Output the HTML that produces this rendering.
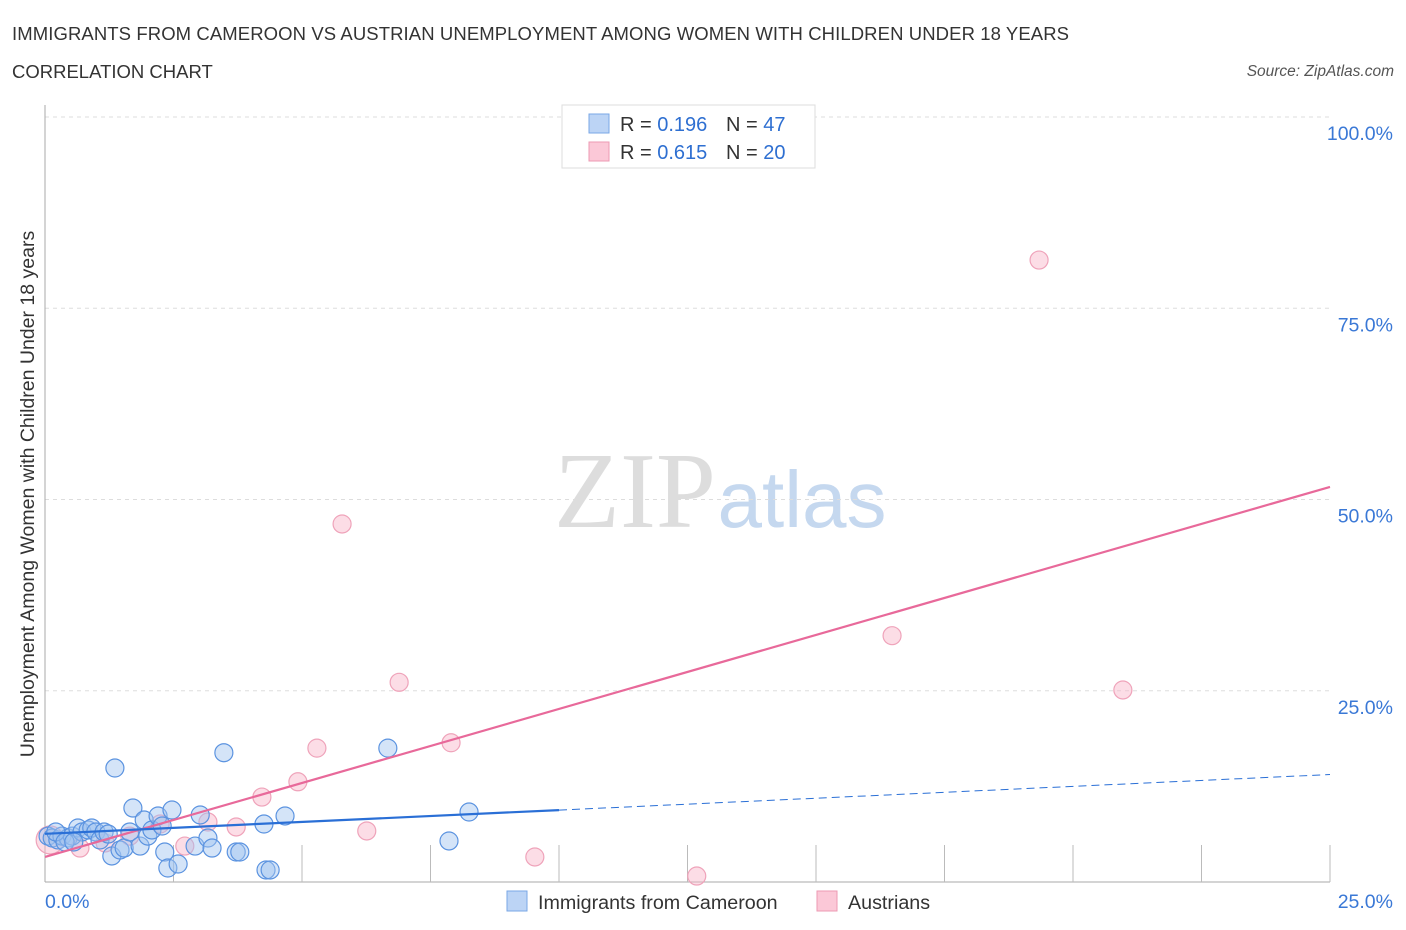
<!DOCTYPE html>
<html><head><meta charset="utf-8"><style>
body{margin:0;background:#fff;font-family:"Liberation Sans",sans-serif;}
svg{display:block}
</style></head><body>
<svg id="chart" width="1406" height="930" xmlns="http://www.w3.org/2000/svg">
<text x="12" y="40" font-size="18.5" fill="#333" textLength="1057">IMMIGRANTS FROM CAMEROON VS AUSTRIAN UNEMPLOYMENT AMONG WOMEN WITH CHILDREN UNDER 18 YEARS</text>
<text x="12" y="78" font-size="18.5" fill="#333">CORRELATION CHART</text>
<text x="1394" y="76" font-size="15.5" fill="#555" font-style="italic" text-anchor="end">Source: ZipAtlas.com</text>
<g>
<text x="635" y="527" font-size="108" font-family="Liberation Serif,serif" fill="#ddd" text-anchor="middle">ZIP</text>
<text x="802" y="527" font-size="80" fill="#c5d8ef" text-anchor="middle">atlas</text>
</g>
<g id="grid"></g>
<g id="axes"></g>
<text transform="translate(34,494) rotate(-90)" font-size="19.5" fill="#333" text-anchor="middle">Unemployment Among Women with Children Under 18 years</text>
<g id="marks"></g>
<g>
<rect x="562" y="105" width="253" height="63" fill="#fff" stroke="#ddd"/>
<rect x="589" y="114" width="20" height="19" fill="#bcd4f5" stroke="#7aa7e6"/>
<rect x="589" y="142" width="20" height="19" fill="#fbc8d7" stroke="#ec9ab3"/>
<text x="620" y="131" font-size="20" fill="#333">R = <tspan fill="#2e6fd1">0.196</tspan></text>
<text x="726" y="131" font-size="20" fill="#333">N = <tspan fill="#2e6fd1">47</tspan></text>
<text x="620" y="159" font-size="20" fill="#333">R = <tspan fill="#2e6fd1">0.615</tspan></text>
<text x="726" y="159" font-size="20" fill="#333">N = <tspan fill="#2e6fd1">20</tspan></text>
</g>
<g>
<rect x="507" y="891" width="20" height="20" fill="#bcd4f5" stroke="#7aa7e6"/>
<text x="538" y="909" font-size="19.7" fill="#333">Immigrants from Cameroon</text>
<rect x="817" y="891" width="20" height="20" fill="#fbc8d7" stroke="#ec9ab3"/>
<text x="848" y="909" font-size="19.7" fill="#333">Austrians</text>
</g>
</svg>
<script>
const yTicks=[25,50,75,100];
const yTickLabels=["25.0%","50.0%","75.0%","100.0%"];
const xTickLabels=["0.0%","25.0%"];
const blueX=[0.06,0.14,0.25,0.33,0.45,0.53,0.64,0.72,0.84,0.91,0.99,1.07,1.15,1.23,1.30,1.36,1.46,1.54,1.65,1.71,1.85,1.93,2.0,2.08,2.2,2.28,2.33,2.39,2.47,2.59,2.92,3.02,3.17,3.25,3.48,3.72,3.79,4.26,4.30,4.38,4.67,6.67,7.86,8.25,0.21,0.39,0.56];
const blueY=[6.0,5.75,5.5,6.0,5.75,6.0,7.06,6.54,6.8,7.06,6.54,5.5,6.54,6.27,3.4,14.9,4.18,4.44,6.54,9.67,4.7,8.1,6.0,6.8,8.63,7.32,3.92,1.83,9.41,2.35,4.7,8.76,5.75,4.44,16.9,3.92,3.92,7.58,1.57,1.57,8.63,17.5,5.36,9.15,6.54,5.23,5.23];
const pinkX=[0.1,0.68,1.17,1.65,2.24,2.72,3.17,3.72,4.22,4.92,5.29,5.78,6.26,6.89,7.9,9.53,12.68,16.48,19.34,20.97];
const pinkY=[5.5,4.44,5.1,6.0,7.58,4.7,7.84,7.19,11.1,13.1,17.5,46.8,6.67,26.1,18.2,3.27,0.78,32.2,81.3,25.1];
const blueLine=[6.3,0.31]; // intercept, slope
const pinkLine=[3.27,1.935];
const blueSolidEnd=10;

const X0=45,X1=1330,Y0=882,Y1=117;
const sx=v=>X0+(X1-X0)*v/25;
const sy=v=>Y0-(Y0-Y1)*v/100;
const NS="http://www.w3.org/2000/svg";
function mk(tag,attrs,parent){const e=document.createElementNS(NS,tag);for(const k in attrs)e.setAttribute(k,attrs[k]);parent.appendChild(e);return e;}
const grid=document.getElementById('grid'),axes=document.getElementById('axes'),marks=document.getElementById('marks');
yTicks.forEach((t,i)=>{
  const l=mk('line',{x1:X0,x2:X1,y1:sy(t),y2:sy(t),stroke:'#ddd','stroke-dasharray':'4,4'},grid);
  
  
  const tx=mk('text',{x:1393,y:sy(t)+23,'font-size':19.5,fill:'#3a78d6','text-anchor':'end'},grid);
  tx.textContent=yTickLabels[i];
  
  
});
mk('line',{x1:X0,x2:X0,y1:105,y2:Y0,stroke:'#aaa'},axes);
mk('line',{x1:X0,x2:X1,y1:Y0,y2:Y0,stroke:'#aaa'},axes);
for(let i=1;i<=10;i++){const x=X0+(X1-X0)*i/10;mk('line',{x1:x,x2:x,y1:Y0,y2:Y0-37,stroke:'#bbb'},axes);}
const xl0=mk('text',{x:45,y:908,'font-size':19.5,fill:'#3a78d6'},axes);xl0.textContent=xTickLabels[0];


const xl1=mk('text',{x:1393,y:908,'font-size':19.5,fill:'#3a78d6','text-anchor':'end'},axes);xl1.textContent=xTickLabels[1];



pinkX.forEach((v,i)=>{
  const c=mk('circle',{cx:sx(v),cy:sy(pinkY[i]),r:i===0?14:9,fill:'rgba(248,180,200,0.45)',stroke:'#efa3ba','stroke-width':1.2},marks);
  
  
});
blueX.forEach((v,i)=>{
  const c=mk('circle',{cx:sx(v),cy:sy(blueY[i]),r:9,fill:'rgba(160,195,240,0.45)',stroke:'#5b93e0','stroke-width':1.2},marks);
  
  
});
const pl=mk('line',{x1:sx(0),y1:sy(pinkLine[0]),x2:sx(25),y2:sy(pinkLine[0]+pinkLine[1]*25),stroke:'#e8699a','stroke-width':2.2},marks);


const bl=mk('line',{x1:sx(0),y1:sy(blueLine[0]),x2:sx(blueSolidEnd),y2:sy(blueLine[0]+blueLine[1]*blueSolidEnd),stroke:'#2a6fd6','stroke-width':2.2},marks);


const bd=mk('line',{x1:sx(blueSolidEnd),y1:sy(blueLine[0]+blueLine[1]*blueSolidEnd),x2:sx(25),y2:sy(blueLine[0]+blueLine[1]*25),stroke:'#2a6fd6','stroke-width':1,'stroke-dasharray':'8,5'},marks);


</script>
</body></html>
